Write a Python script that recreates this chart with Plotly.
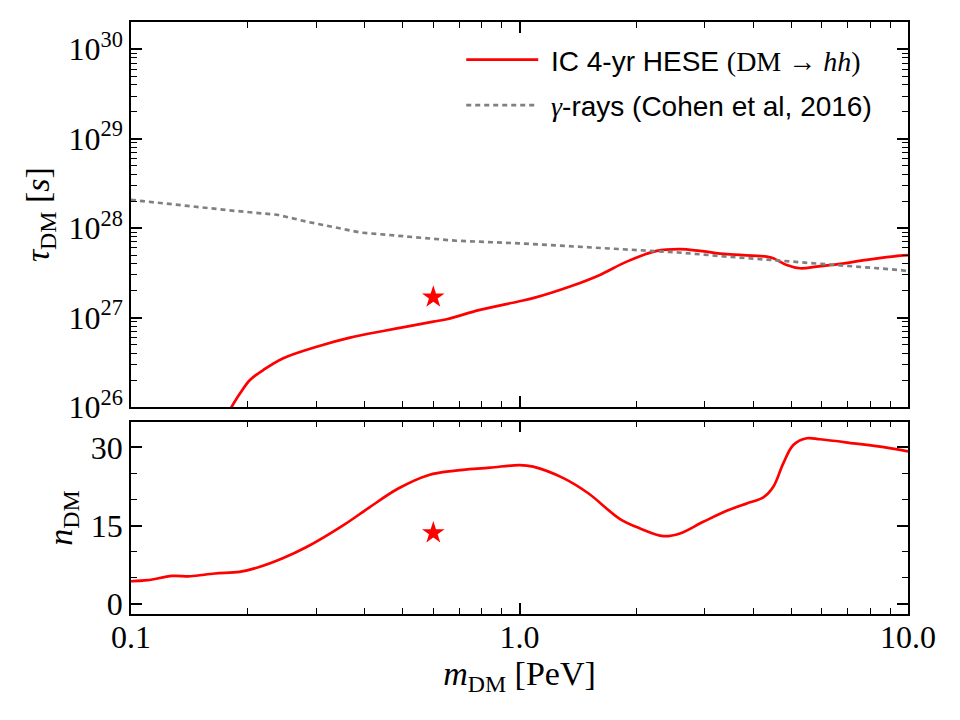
import plotly.graph_objects as go

# ---- data ----
# IC 4-yr HESE lifetime limit (DM -> hh)
m_ic = [0.176, 0.1815, 0.1909, 0.2024, 0.2190, 0.2466, 0.3006, 0.3663, 0.4460, 0.5126,
        0.600, 0.6496, 0.791, 0.993, 1.09, 1.355, 1.611, 1.888, 2.256, 2.589, 2.914,
        3.415, 4.328, 4.501, 4.873, 5.272, 5.821, 6.683, 7.831, 9.537, 10.0]
tau_ic = [7.9e25, 1.0e26, 1.42e26, 2.00e26, 2.59e26, 3.51e26, 4.72e26, 5.96e26, 7.08e26,
          7.91e26, 9.0e26, 9.57e26, 1.22e27, 1.51e27, 1.66e27, 2.24e27, 3.00e27, 4.22e27,
          5.56e27, 5.81e27, 5.56e27, 5.11e27, 4.80e27, 4.60e27, 3.87e27, 3.56e27, 3.71e27,
          3.98e27, 4.41e27, 4.92e27, 5.0e27]

# gamma-ray limit (Cohen et al 2016)
m_gam = [0.1, 0.1315, 0.1795, 0.2377, 0.2864, 0.3908, 0.501, 0.684, 0.993, 1.611,
         2.529, 3.451, 4.33, 6.427, 9.537, 10.0]
tau_gam = [2.07e28, 1.82e28, 1.58e28, 1.41e28, 1.17e28, 8.91e27, 8.13e27, 7.24e27,
           6.76e27, 6.05e27, 5.37e27, 4.79e27, 4.41e27, 3.89e27, 3.40e27, 3.30e27]

# number of signal events
m_n = [0.1, 0.1104, 0.1276, 0.1422, 0.1644, 0.1901, 0.2118, 0.2449, 0.2831, 0.3524,
       0.4074, 0.4875, 0.5848, 0.6761, 0.8395, 1.0, 1.084, 1.297, 1.503, 1.815, 2.043,
       2.346, 2.589, 2.972, 3.415, 3.845, 4.243, 4.501, 4.775, 5.068, 5.487, 5.936,
       7.232, 8.814, 10.0]
n_dm = [4.35, 4.55, 5.37, 5.31, 5.83, 6.14, 6.98, 8.7, 10.9, 15.1, 18.3, 22.1, 24.7,
        25.5, 26.1, 26.6, 26.3, 24.1, 21.2, 16.25, 14.46, 12.99, 13.5, 15.73, 17.84,
        19.26, 20.41, 22.44, 26.93, 30.44, 31.73, 31.54, 30.77, 29.93, 29.2]

# best fit point
m_star = [0.6]
tau_star = [1.69e27]
n_star = [13.6]

x_tickvals = [0.1, 1.0, 10.0]
x_ticktext = ["0.1", "1.0", "10.0"]
tau_tickvals = [1e26, 1e27, 1e28, 1e29, 1e30]
tau_ticktext = ["10<sup>26</sup>", "10<sup>27</sup>", "10<sup>28</sup>",
                "10<sup>29</sup>", "10<sup>30</sup>"]
n_tickvals = [0, 15, 30]

RED = "#ff0000"
GREY = "#808080"
SERIF = "Liberation Serif"
SANS = "Liberation Sans"

fig = go.Figure()
fig.add_trace(go.Scatter(x=m_ic, y=tau_ic, mode="lines", xaxis="x", yaxis="y",
                         line=dict(color=RED, width=2.7, shape="spline", smoothing=1.0),
                         name="&nbsp;IC 4-yr HESE <span style=\"font-family:Liberation Serif\">(DM → <i>hh</i>)</span>",
                         legendgroup="a"))
fig.add_trace(go.Scatter(x=m_gam, y=tau_gam, mode="lines", xaxis="x", yaxis="y",
                         line=dict(color=GREY, width=2.7, dash="5px,4px"),
                         name="&nbsp;<span style=\"font-family:Liberation Serif\"><i>γ</i></span>-rays (Cohen et al, 2016)",
                         legendgroup="b"))
fig.add_trace(go.Scatter(x=m_star, y=tau_star, mode="markers", xaxis="x", yaxis="y",
                         marker=dict(symbol="star", size=17, color=RED), showlegend=False))
fig.add_trace(go.Scatter(x=m_n, y=n_dm, mode="lines", xaxis="x2", yaxis="y2",
                         line=dict(color=RED, width=2.7, shape="spline", smoothing=1.0),
                         showlegend=False))
fig.add_trace(go.Scatter(x=m_star, y=n_star, mode="markers", xaxis="x2", yaxis="y2",
                         marker=dict(symbol="star", size=17, color=RED), showlegend=False))

minor_x = [d * 10.0 ** e for e in (-1, 0) for d in range(2, 10)]
minor_ytop = [d * 10.0 ** e for e in range(26, 31) for d in range(2, 10)]
minor_n = [5, 10, 20, 25]

common = dict(showline=True, linecolor="black", linewidth=1.5, mirror="allticks",
              ticks="inside", ticklen=11, tickwidth=1.5, tickcolor="black",
              showgrid=False, zeroline=False, automargin=False,
              tickfont=dict(family=SERIF, size=32, color="black"))
minor_style = dict(ticks="inside", ticklen=6, tickwidth=1.2, tickcolor="black", showgrid=False)

fig.update_layout(
    width=960, height=720,
    margin=dict(l=131, r=52, t=22, b=106),
    plot_bgcolor="white", paper_bgcolor="white",
    showlegend=True,
    legend=dict(x=0.425, y=0.978, xanchor="left", yanchor="top",
                bgcolor="rgba(0,0,0,0)", borderwidth=0,
                font=dict(family=SANS, size=28, color="black"),
                itemwidth=72, tracegroupgap=6, traceorder="grouped"),
    xaxis=dict(type="log", range=[-1, 1], domain=[0, 1], anchor="y",
               tickmode="array", tickvals=x_tickvals, ticktext=x_ticktext, showticklabels=False,
               minor=dict(tickmode="array", tickvals=minor_x, **minor_style),
               **common),
    yaxis=dict(type="log", range=[26, 30.305], domain=[0.3497, 1], anchor="x",
               tickmode="array", tickvals=tau_tickvals, ticktext=tau_ticktext,
               minor=dict(tickmode="array", tickvals=minor_ytop, **minor_style),
               **common),
    xaxis2=dict(type="log", range=[-1, 1], domain=[0, 1], anchor="y2", matches="x",
                tickmode="array", tickvals=x_tickvals, ticktext=x_ticktext, ticklabelstandoff=-6,
                minor=dict(tickmode="array", tickvals=minor_x, **minor_style),
                title=dict(text="<i>m</i><sub>DM</sub> [PeV]", standoff=2,
                           font=dict(family=SERIF, size=34, color="black")),
                **common),
    yaxis2=dict(range=[-1.92, 34.9], domain=[0, 0.3248], anchor="x2",
                tickmode="array", tickvals=n_tickvals,
                minor=dict(tickmode="array", tickvals=minor_n, **minor_style),
                **common),
    annotations=[
        dict(text="<i>τ</i><sub>DM</sub> [<i>s</i>]", xref="paper", yref="paper",
             x=-0.117, y=0.674, xanchor="center", yanchor="middle", textangle=-90,
             showarrow=False, font=dict(family=SERIF, size=34, color="black")),
        dict(text="<i>n</i><sub>DM</sub>", xref="paper", yref="paper",
             x=-0.088, y=0.162, xanchor="center", yanchor="middle", textangle=-90,
             showarrow=False, font=dict(family=SERIF, size=34, color="black")),
    ],
)

fig.write_html("out.html")
